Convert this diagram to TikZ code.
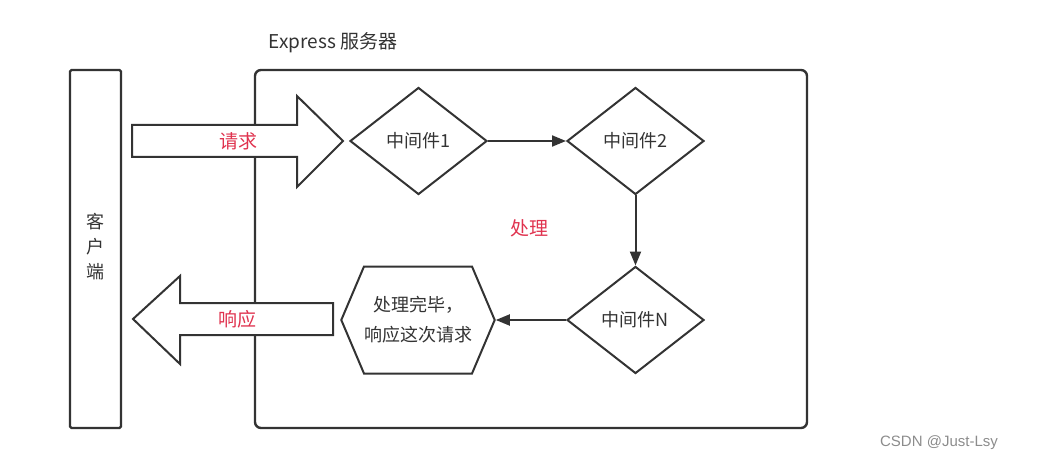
\documentclass[tikz,border=0pt]{standalone}
\usepackage{fontspec}
\setmainfont{Noto Sans CJK SC}
\newfontfamily\wmfont{Liberation Sans}
\usetikzlibrary{shapes.geometric,shapes.symbols,arrows.meta}
\definecolor{ln}{HTML}{333333}
\definecolor{rd}{HTML}{E0334F}
\tikzset{
  frame/.style={draw=ln, line width=2.4pt},
  bigarrow/.style={draw=ln, line width=2pt, fill=white, line join=miter},
  mid/.style={diamond, draw=ln, line width=2pt, minimum width=137pt, minimum height=107pt, aspect=1.28, inner sep=0pt, font=\fontsize{18}{22}\selectfont, text=ln},
  hexa/.style={signal, signal to=west and east, signal pointer angle=134, draw=ln, line width=2pt, minimum width=151pt, minimum height=107pt, inner sep=0pt, font=\fontsize{18}{30}\selectfont, text=ln, align=center},
  conn/.style={draw=ln, line width=2pt, -{Triangle[length=14pt,width=11pt]}},
  redtxt/.style={text=rd, font=\fontsize{19}{22}\selectfont},
}
\begin{document}
\begin{tikzpicture}[x=1pt,y=-1pt]
\useasboundingbox (0,0) rectangle (1037,468);
% frames
\draw[frame, rounded corners=6pt] (255,70) rectangle (807,428);
\draw[frame, rounded corners=1.5pt] (70,70) rectangle (121,428);
\node[text=ln, font=\fontsize{19}{22}\selectfont] (srvlbl) at (333,43) {Express 服务器};
\node[text=ln, font=\fontsize{18}{25}\selectfont, align=center] (client) at (95.5,247) {客\\户\\端};
% request arrow
\draw[bigarrow] (132,125) -- (297,125) -- (297,96) -- (343,141) -- (297,187) -- (297,157) -- (132,157) -- cycle;
\node[redtxt] (req) at (238,141) {请求};
% response arrow
\draw[bigarrow] (333,303) -- (180,303) -- (180,276) -- (133,319) -- (180,364) -- (180,335) -- (333,335) -- cycle;
\node[redtxt] (resp) at (237,319) {响应};
% middlewares
\node[mid] (m1) at (418.5,141) {中间件1};
\node[mid] (m2) at (635.5,141) {中间件2};
\node[mid] (mn) at (635.5,320) {中间件N};
\node[hexa] (done) at (418,320) {处理完毕，\\响应这次请求};
\node[redtxt] (proc) at (529,228) {处理};
\draw[conn] (m1.east) -- (m2.west);
\draw[conn] (m2.south) -- (mn.north);
\draw[conn] (mn.west) -- (done.east);
% watermark
\node[text=black!45, font=\wmfont\fontsize{15}{18}\selectfont] (wm) at (939,443) {CSDN @Just-Lsy};
\end{tikzpicture}
\end{document}
